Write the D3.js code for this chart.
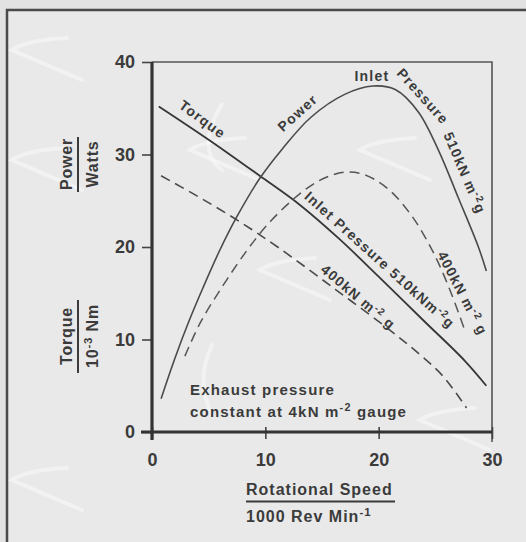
<!DOCTYPE html>
<html>
<head>
<meta charset="utf-8">
<script src="https://cdn.jsdelivr.net/npm/d3@7"></script>
<style>
body { margin: 0; background: #e2e2e2; }
text { font-family: 'Liberation Sans', Arial, sans-serif; font-weight: bold; fill: #3b3b3b; }
</style>
</head>
<body>
<svg id="chart"></svg>
<script>
const X_TICKS = [0, 10, 20, 30]
const Y_TICKS = [0, 10, 20, 30, 40]

// speed in 1000 rev/min
const torque510Speed = [0.6, 5, 9.5, 13, 16.5, 20, 24, 27.6, 29.5]
const torque510 = [35.2, 31.6, 27.7, 24.6, 20.9, 16.8, 12.0, 7.7, 5.0]

const torque400Speed = [0.8, 4, 7.4, 11.2, 16.2, 20.9, 23.6, 25.7, 27.75]
const torque400 = [27.7, 25.5, 23.0, 19.9, 15.4, 11.1, 8.4, 6.0, 2.6]

const power510Speed = [0.8, 2, 3.3, 4.5, 6, 7.5, 9.5, 11.5, 14, 17, 19.5, 21.5, 23.5, 25.3, 27, 28.8, 29.5]
const power510 = [3.6, 7.9, 12.1, 15.6, 19.7, 23.3, 27.4, 30.6, 34.0, 36.5, 37.4, 37.0, 34.6, 30.4, 25.4, 20.0, 17.4]

const power400Speed = [2.9, 4.3, 6.3, 8.3, 10.1, 12.4, 14.1, 15.5, 17.1, 18.8, 20.9, 22.9, 24.4, 25.3, 26.4, 27.6]
const power400 = [8.2, 11.9, 15.9, 19.5, 22.3, 25.1, 26.7, 27.6, 28.1, 27.8, 26.2, 23.4, 20.4, 18.2, 15.0, 11.0]

const width = 526
const height = 542

const svg = d3.select('#chart')
    .attr('width', width)
    .attr('height', height)

const x = d3.scaleLinear().domain([0, 30]).range([152, 492])
const y = d3.scaleLinear().domain([0, 40]).range([432, 62])

// paper frame
svg.append('rect')
    .attr('x', 7).attr('y', 10)
    .attr('width', 560).attr('height', 580)
    .attr('fill', '#e9e9e9')
    .attr('stroke', '#4a4a4a')
    .attr('stroke-width', 2.5)

// faint watermark swooshes of the scan
const marks = svg.append('g')
    .attr('fill', 'none')
    .attr('stroke', '#ffffff')
    .attr('stroke-opacity', 0.4)
    .attr('stroke-width', 4)
    .attr('stroke-linecap', 'round')
const tips = [[12, 50], [12, 160], [12, 480], [190, 150], [360, 150], [260, 270], [420, 420]]
tips.forEach(([tx, ty]) => {
    marks.append('path')
        .attr('d', `M${tx + 55},${ty - 12} Q${tx + 15},${ty - 10} ${tx},${ty} L${tx + 70},${ty + 30}`)
})
marks.append('path').attr('d', 'M222,104 Q195,150 222,170')
marks.append('path').attr('d', 'M212,345 Q195,380 212,415')

// plot box: thin top and right
svg.append('path')
    .attr('d', `M${x(0)},${y(40)}H${x(30)}V${y(0) + 10}`)
    .attr('fill', 'none')
    .attr('stroke', '#555')
    .attr('stroke-width', 1.6)

// y axis
const yAxis = svg.append('g')
    .attr('transform', `translate(${x(0)},0)`)
    .call(d3.axisLeft(y).tickValues(Y_TICKS).tickSize(10).tickPadding(7))
yAxis.select('.domain').remove()
yAxis.selectAll('line').attr('stroke', '#444').attr('stroke-width', 1.6)
yAxis.selectAll('text')
    .attr('fill', '#3b3b3b')
    .style('font-size', '18px')
    .style('font-family', "'Liberation Sans', Arial, sans-serif")
    .style('font-weight', 'bold')

// x axis
const xAxis = svg.append('g')
    .attr('transform', `translate(0,${y(0)})`)
    .call(d3.axisBottom(x).tickValues(X_TICKS).tickSizeInner(7).tickSizeOuter(0).tickPadding(14))
xAxis.select('.domain').remove()
xAxis.selectAll('line').attr('stroke', '#444').attr('stroke-width', 1.6).attr('y1', -5)
xAxis.selectAll('text')
    .attr('fill', '#3b3b3b')
    .style('font-size', '18px')
    .style('font-family', "'Liberation Sans', Arial, sans-serif")
    .style('font-weight', 'bold')

svg.append('line')
    .attr('x1', x(0)).attr('x2', x(0))
    .attr('y1', y(40)).attr('y2', y(0) + 8)
    .attr('stroke', '#333').attr('stroke-width', 3.2)
svg.append('line')
    .attr('x1', x(0) - 11).attr('x2', x(30))
    .attr('y1', y(0)).attr('y2', y(0))
    .attr('stroke', '#333').attr('stroke-width', 3.2)

// curves
const line = d3.line()
    .x(d => x(d[0]))
    .y(d => y(d[1]))
    .curve(d3.curveCatmullRom.alpha(0.5))

const series = [
    { speed: torque510Speed, values: torque510, dash: null, color: '#363636', w: 1.8 },
    { speed: power510Speed, values: power510, dash: null, color: '#4a4a4a', w: 1.6 },
    { speed: torque400Speed, values: torque400, dash: '10,6', color: '#4a4a4a', w: 1.6 },
    { speed: power400Speed, values: power400, dash: '10,6', color: '#555', w: 1.5 }
]

svg.selectAll('.curve')
    .data(series)
    .enter().append('path')
    .attr('class', 'curve')
    .attr('d', s => line(d3.zip(s.speed, s.values)))
    .attr('fill', 'none')
    .attr('stroke', s => s.color)
    .attr('stroke-width', s => s.w)
    .attr('stroke-dasharray', s => s.dash)

// text with superscripts: parts = [[text, isSup], ...]
function addText(parent, parts, size, spacing, anchor) {
    const t = parent.append('text')
        .attr('text-anchor', anchor)
        .style('font-size', size + 'px')
        .style('letter-spacing', spacing + 'px')
    parts.forEach(([str, sup]) => {
        const s = t.append('tspan').text(str)
        if (sup) s.attr('baseline-shift', 'super').style('font-size', (size * 0.72) + 'px')
    })
    return t
}

// curve labels, centre in data units
const curveLabels = [
    { parts: [['Torque']], sx: 4.46, v: 33.8, angle: 36.6 },
    { parts: [['Power']], sx: 12.84, v: 34.5, angle: -42 },
    { parts: [['Inlet']], sx: 19.4, v: 38.5, angle: 0 },
    { parts: [['Pressure']], sx: 23.9, v: 36.3, angle: 48 },
    { parts: [['510kN m'], ['-2', true], ['g']], sx: 27.6, v: 28.0, angle: 67 },
    { parts: [['Inlet Pressure 510kNm'], ['-2', true], ['g']], sx: 20.1, v: 18.6, angle: 42 },
    { parts: [['400kN m'], ['-2', true], [' g']], sx: 18.2, v: 14.6, angle: 40 },
    { parts: [['400kN m'], ['-2', true], [' g']], sx: 27.4, v: 15.0, angle: 62.6 }
]

curveLabels.forEach(l => {
    const g = svg.append('g')
        .attr('transform', `translate(${x(l.sx)},${y(l.v)}) rotate(${l.angle})`)
    addText(g, l.parts, 14, 1.2, 'middle').attr('dy', '0.35em')
})

// note
const note = svg.append('g').attr('transform', `translate(190,0)`)
addText(note, [['Exhaust pressure']], 15, 1.2, 'start').attr('y', 395)
addText(note, [['constant at 4kN m'], ['-2', true], [' gauge']], 15, 1.2, 'start').attr('y', 417)

// x title
addText(svg, [['Rotational Speed']], 16, 1, 'start').attr('x', 246).attr('y', 495)
svg.append('line')
    .attr('x1', 246).attr('x2', 395)
    .attr('y1', 501.5).attr('y2', 501.5)
    .attr('stroke', '#3b3b3b').attr('stroke-width', 2)
addText(svg, [['1000 Rev Min'], ['-1', true]], 16, 1, 'start').attr('x', 246).attr('y', 522)

// y titles (fractions)
function fraction(top, bottom, cy, lineFrom, lineTo) {
    const g1 = svg.append('g').attr('transform', `translate(72,${cy}) rotate(-90)`)
    addText(g1, top, 16, 0.8, 'middle')
    const g2 = svg.append('g').attr('transform', `translate(98,${cy}) rotate(-90)`)
    addText(g2, bottom, 16, 0.8, 'middle')
    svg.append('line')
        .attr('x1', 78).attr('x2', 78)
        .attr('y1', lineFrom).attr('y2', lineTo)
        .attr('stroke', '#3b3b3b').attr('stroke-width', 2)
}
fraction([['Power']], [['Watts']], 164, 137, 192)
fraction([['Torque']], [['10'], ['-3', true], [' Nm']], 336, 300, 373)
</script>
</body>
</html>
